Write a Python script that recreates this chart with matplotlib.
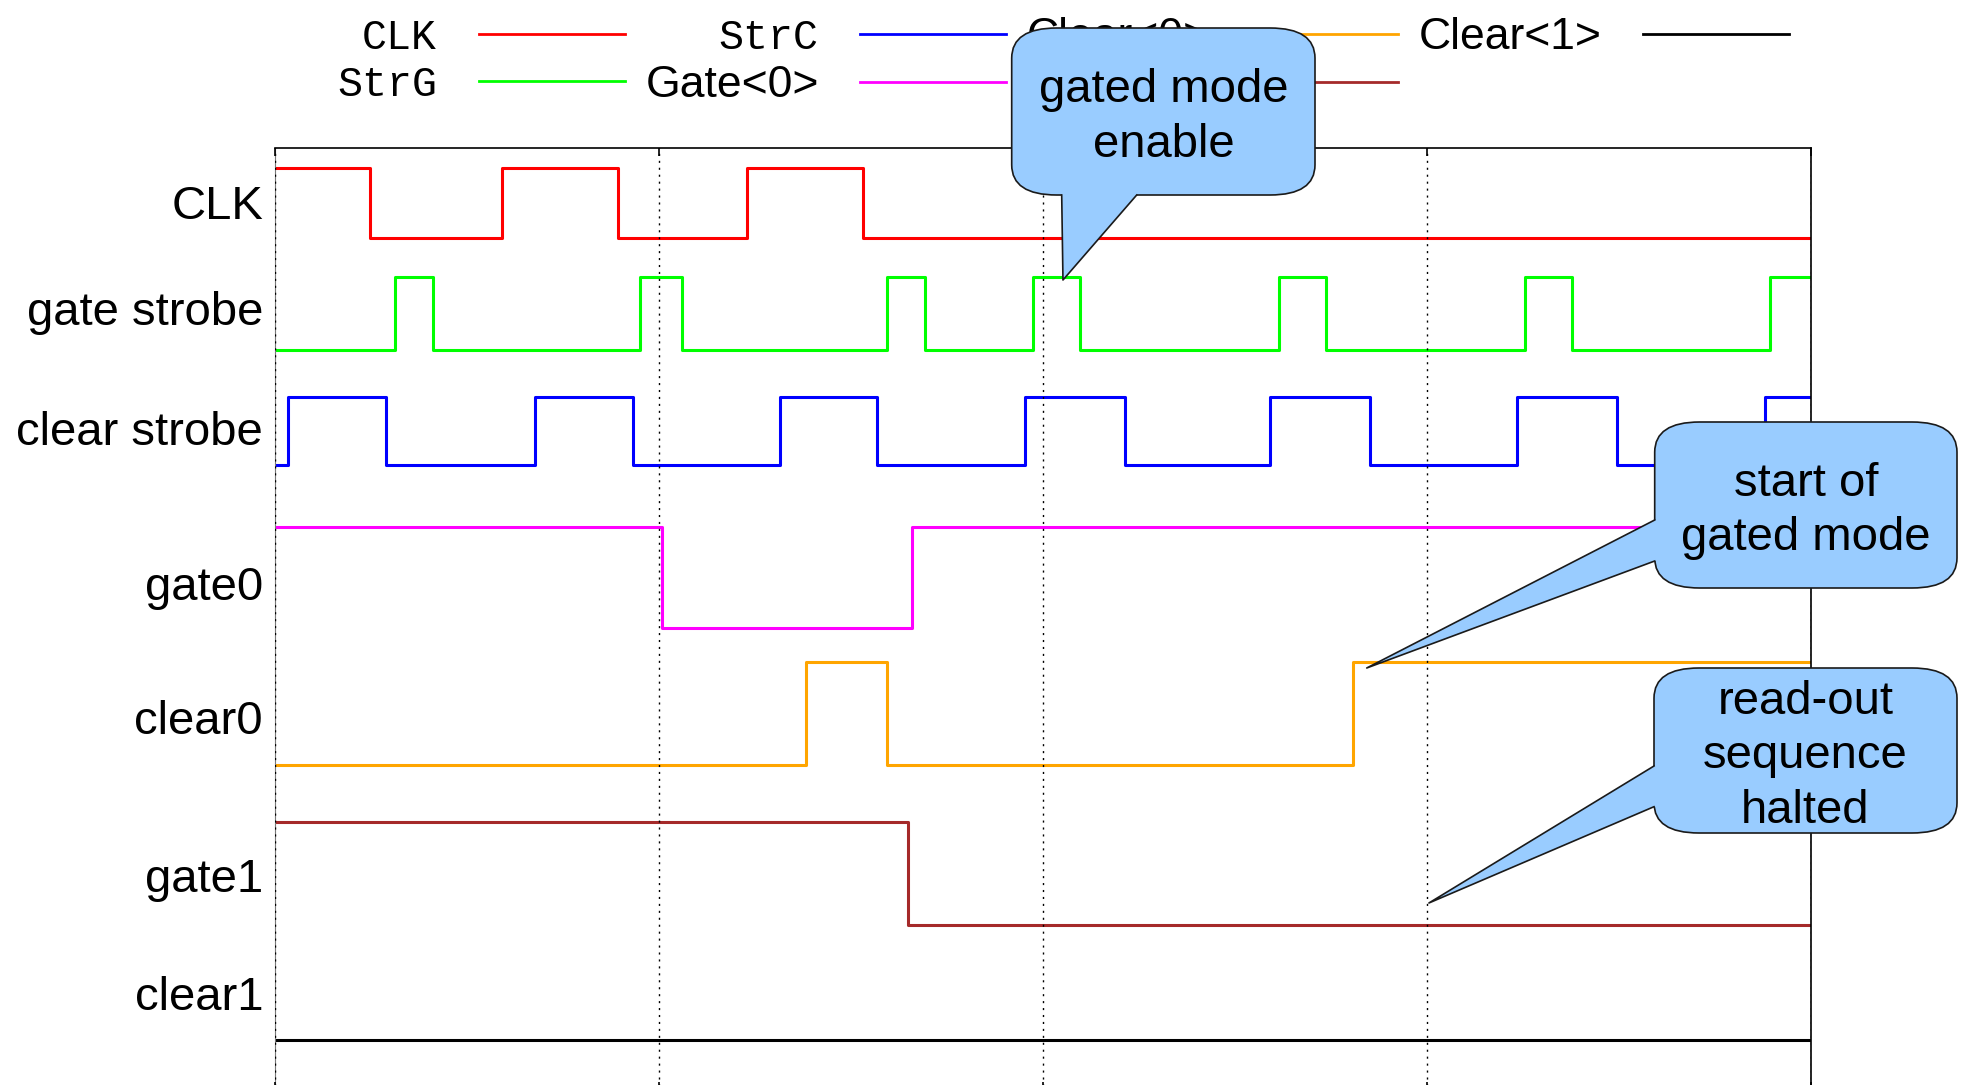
"""
Cronograma de las señales de lectura: CLK, strobes y gate/clear de cada canal
"""

import numpy as np
import matplotlib.pyplot as plt
import matplotlib.transforms as mtransforms
from matplotlib.patches import FancyBboxPatch, Polygon
from matplotlib.lines import Line2D

plt.rcParams['font.family'] = ['Liberation Sans', 'DejaVu Sans']

# nombres de las trazas, etiquetas de la leyenda y colores
canales = ['CLK', 'gate strobe', 'clear strobe', 'gate0', 'clear0', 'gate1', 'clear1']
leyenda = ['CLK', 'StrG', 'StrC', 'Gate<0>', 'Clear<0>', 'Gate<1>', 'Clear<1>']
colores = ['#ff0000', '#00ff00', '#0000ff', '#ff00ff', '#ffa500', '#a52a2a', '#000000']

# niveles (div) de cada traza: bajo y alto, y estado inicial
bajo = [8.47, 7.35, 6.20, 4.57, 3.20, 1.60, 0.45]
alto = [9.17, 8.08, 6.88, 5.58, 4.23, 2.63, 0.45]
inicio = [1, 0, 0, 1, 0, 1, 0]

# instantes de cada flanco (div)
flancos = [
    [0.247, 0.590, 0.893, 1.228, 1.530],
    [0.313, 0.411, 0.951, 1.059, 1.593, 1.693, 1.974, 2.096,
     2.615, 2.736, 3.254, 3.377, 3.893],
    [0.034, 0.289, 0.677, 0.932, 1.315, 1.568, 1.953, 2.214,
     2.591, 2.852, 3.234, 3.495, 3.879],
    [1.007, 1.660],
    [1.383, 1.593, 2.807],
    [1.649],
    [],
]

# altura (div) de la linea base de cada nombre de traza
pos_nombres = [8.66, 7.60, 6.40, 4.85, 3.51, 1.93, 0.75]

# globos: texto, punto señalado (div)
globos_txt = ['gated mode\nenable', 'start of\ngated mode', 'read-out\nsequence\nhalted']
globos_punta = [(2.052, 8.05), (2.843, 4.17), (3.005, 1.82)]


def senal(k):
    t = np.concatenate(([0.0], flancos[k], [4.0]))
    estado = (inicio[k] + np.arange(len(t))) % 2
    y = np.where(estado == 1, alto[k], bajo[k])
    y[-1] = y[-2]
    return t, y


W, H = 1961, 1085
fig = plt.figure(figsize=(W / 100, H / 100), dpi=100)
ax = fig.add_axes([275 / W, -5 / H, 1536 / W, (1090 - 147.5) / H])

for k in range(len(canales)):
    t, y = senal(k)
    ax.plot(t, y, color=colores[k], lw=2.2, drawstyle='steps-post')

ax.set_xlim(0, 4)
ax.set_ylim(-0.05, 9.375)
ax.set_xticks([0, 1, 2, 3, 4])
ax.set_xticklabels([])
ax.set_yticks([])
ax.tick_params(axis='x', direction='in', top=True, length=6, width=1.2)
ax.grid(axis='x', color='k', lw=1.0, ls=(0, (1.5, 3.5)))
ax.set_axisbelow(False)
ax.spines['left'].set_color('#777777')
ax.spines['left'].set_linewidth(0.8)
for s in ['top', 'right', 'bottom']:
    ax.spines[s].set_linewidth(1.2)

tr = mtransforms.blended_transform_factory(ax.transAxes, ax.transData)
for nombre, yb in zip(canales, pos_nombres):
    ax.text(-0.0078, yb, nombre, ha='right', va='baseline', transform=tr,
            fontsize=34, family='Liberation Sans')

# leyenda en dos filas, texto a la izquierda de la linea
lineas = [Line2D([], [], color=c, lw=2) for c in colores]
leg = fig.legend(lineas, leyenda, ncol=4, markerfirst=False,
                 frameon=False, loc='upper left',
                 bbox_to_anchor=(337 / W, 1 - 17 / H),
                 prop={'family': 'Liberation Mono', 'size': 30},
                 handlelength=3.5, handletextpad=1.0, columnspacing=0.5,
                 labelspacing=0.16, borderpad=0, borderaxespad=0)
for txt in leg.get_texts():
    if '<' in txt.get_text():
        txt.set_family('Liberation Sans')
        txt.set_fontsize(32)

# globos de texto (coordenadas en pixeles desde arriba a la izquierda)
ident = mtransforms.IdentityTransform()
cajas = [(1011.7, 28, 1315, 195), (1654.7, 422, 1957, 588), (1654, 668, 1957, 833)]
bases = [('bottom', 1061.7, 1136.7), ('left', 520, 561), ('left', 766, 806.7)]
azul = '#99ccff'
borde = '#1a1a1a'
for texto, caja, base, punta in zip(globos_txt, cajas, bases, globos_punta):
    x0, y0, x1, y1 = caja
    px, py = ax.transData.transform(punta)
    fig.add_artist(FancyBboxPatch((x0, H - y1), x1 - x0, y1 - y0,
                                  boxstyle='round,pad=0,rounding_size=45',
                                  mutation_aspect=0.67, fc=azul, ec=borde,
                                  lw=1.2, transform=ident, zorder=20))
    if base[0] == 'bottom':
        b1 = (base[1], H - y1)
        b2 = (base[2], H - y1)
        poly = [(b1[0], b1[1] + 6), b1, (px, py), b2, (b2[0], b2[1] + 6)]
    else:
        b1 = (x0, H - base[1])
        b2 = (x0, H - base[2])
        poly = [(x0 + 6, b1[1]), b1, (px, py), b2, (x0 + 6, b2[1])]
    fig.add_artist(Polygon(poly, closed=True, fc=azul, ec='none',
                           transform=ident, zorder=21))
    fig.add_artist(Line2D([b1[0], px, b2[0]], [b1[1], py, b2[1]], color=borde,
                          lw=1.2, transform=ident, zorder=22))
    fig.text((x0 + x1) / 2, H - (y0 + y1) / 2 - 6, texto, ha='center', va='center',
             transform=ident, fontsize=34, zorder=23, family='Liberation Sans',
             linespacing=1.3)

fig.savefig('out.png', dpi=100)
